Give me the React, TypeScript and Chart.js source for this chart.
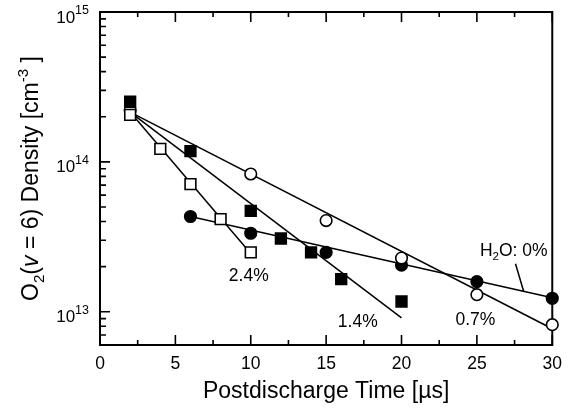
import { useEffect, useRef } from 'react';
import { Chart, registerables } from 'chart.js';

Chart.register(...registerables);

const FONT = '"Liberation Sans", Arial, Helvetica, sans-serif';

// Measured points: postdischarge time [µs] and O2(v=6) density [cm^-3]
const timeH2O0 = [6, 10, 15, 20, 25, 30];
const densityH2O0 = [4.32e13, 3.34e13, 2.49e13, 2.05e13, 1.59e13, 1.23e13];

const timeH2O07 = [2, 10, 15, 20, 25, 30];
const densityH2O07 = [2.22e14, 8.3e13, 4.06e13, 2.28e13, 1.3e13, 8.2e12];

const timeH2O14 = [2, 6, 10, 12, 14, 16, 20];
const densityH2O14 = [2.52e14, 1.18e14, 4.71e13, 3.08e13, 2.49e13, 1.65e13, 1.17e13];

const timeH2O24 = [2, 4, 6, 8, 10];
const densityH2O24 = [2.06e14, 1.22e14, 7.1e13, 4.15e13, 2.49e13];

// Fitted decay lines (end points)
const fitTime0 = [6, 30];
const fitDensity0 = [4.32e13, 1.24e13];
const fitTime07 = [2, 30];
const fitDensity07 = [2.15e14, 7.7e12];
const fitTime14 = [2, 20];
const fitDensity14 = [2.15e14, 9.1e12];
const fitTime24 = [2, 10];
const fitDensity24 = [2.15e14, 2.45e13];
// Leader line of the "H2O: 0%" label
const leaderTime = [27.56, 28.1];
const leaderDensity = [2.09e13, 1.37e13];

// Axes
const xMin = 0;
const xMax = 30;
const xMajorTicks = [0, 5, 10, 15, 20, 25, 30];
const xMinorTicks = [2.5, 7.5, 12.5, 17.5, 22.5, 27.5];
const yMin = 6e12;
const yMax = 1e15;
const yDecadeExponents = [13, 14, 15];
const yMinorMantissas = [2, 3, 4, 5, 6, 7, 8, 9];

// Series labels (text, anchor time, anchor density)
const labelTexts = ['2.4%', '1.4%', '0.7%'];
const labelTimes = [9.87, 17.1, 24.9];
const labelDensities = [1.765e13, 8.74e12, 9.02e12];
const h2oLabelTime = 25.2;
const h2oLabelDensity = 2.59e13;

const xTitle = 'Postdischarge Time [\u00b5s]';

const pts = (xs: number[], ys: number[]) => xs.map((x, i) => ({ x, y: ys[i] }));

type Seg = { t: string; kind?: 'sub' | 'sup' | 'italic' };

function drawSegments(ctx: CanvasRenderingContext2D, segs: Seg[], fs: number, startX: number, baseY: number, center: boolean) {
  const fontFor = (s: Seg) => {
    if (s.kind === 'sub' || s.kind === 'sup') return `${fs * 0.66}px ${FONT}`;
    if (s.kind === 'italic') return `italic ${fs}px ${FONT}`;
    return `${fs}px ${FONT}`;
  };
  let total = 0;
  for (const s of segs) {
    ctx.font = fontFor(s);
    total += ctx.measureText(s.t).width;
  }
  let x = center ? startX - total / 2 : startX;
  ctx.textAlign = 'left';
  ctx.textBaseline = 'alphabetic';
  for (const s of segs) {
    ctx.font = fontFor(s);
    let dy = 0;
    if (s.kind === 'sub') dy = fs * 0.24;
    if (s.kind === 'sup') dy = -fs * 0.42;
    ctx.fillText(s.t, x, baseY + dy);
    x += ctx.measureText(s.t).width;
  }
}

const framePlugin = {
  id: 'frameTicks',
  beforeDatasetsDraw(chart: any) {
    const { ctx, chartArea: a, scales } = chart;
    const xs = scales.x;
    const ys = scales.y;
    ctx.save();
    ctx.strokeStyle = '#000';
    ctx.lineWidth = 2;
    ctx.strokeRect(a.left, a.top, a.right - a.left, a.bottom - a.top);
    ctx.lineWidth = 1.6;
    ctx.beginPath();
    const xTick = (v: number, len: number) => {
      const px = xs.getPixelForValue(v);
      ctx.moveTo(px, a.bottom);
      ctx.lineTo(px, a.bottom - len);
      ctx.moveTo(px, a.top);
      ctx.lineTo(px, a.top + len);
    };
    xMajorTicks.forEach((v) => xTick(v, 10));
    xMinorTicks.forEach((v) => xTick(v, 5));
    const yTick = (v: number, len: number) => {
      if (v < yMin || v > yMax) return;
      const py = ys.getPixelForValue(v);
      ctx.moveTo(a.left, py);
      ctx.lineTo(a.left + len, py);
    };
    [12, ...yDecadeExponents].forEach((e) => {
      yTick(Math.pow(10, e), 10);
      yMinorMantissas.forEach((m) => yTick(m * Math.pow(10, e), 6));
    });
    ctx.stroke();
    ctx.restore();
  },
  afterDraw(chart: any) {
    const { ctx, chartArea: a, scales } = chart;
    const xs = scales.x;
    const ys = scales.y;
    ctx.save();
    ctx.fillStyle = '#000';

    // y tick labels 10^n
    yDecadeExponents.forEach((e) => {
      const py = ys.getPixelForValue(Math.pow(10, e));
      const right = a.left - 11;
      ctx.textAlign = 'right';
      ctx.textBaseline = 'alphabetic';
      ctx.font = `12.5px ${FONT}`;
      const sup = String(e);
      const supW = ctx.measureText(sup).width;
      ctx.fillText(sup, right, py + 2);
      ctx.font = `17px ${FONT}`;
      ctx.fillText('10', right - supW, py + 10.5);
    });

    // x title
    ctx.font = `23px ${FONT}`;
    ctx.textAlign = 'center';
    ctx.textBaseline = 'alphabetic';
    ctx.fillText(xTitle, (a.left + a.right) / 2, 398);

    // y title (rotated)
    ctx.save();
    ctx.translate(38, (a.top + a.bottom) / 2);
    ctx.rotate(-Math.PI / 2);
    drawSegments(
      ctx,
      [
        { t: 'O' },
        { t: '2', kind: 'sub' },
        { t: '(' },
        { t: 'v', kind: 'italic' },
        { t: ' = 6) Density [cm' },
        { t: '-3', kind: 'sup' },
        { t: ' ]' },
      ],
      23,
      0,
      0,
      true
    );
    ctx.restore();

    // series labels
    const lfs = 17.5;
    ctx.font = `${lfs}px ${FONT}`;
    ctx.textAlign = 'center';
    ctx.textBaseline = 'alphabetic';
    labelTexts.forEach((t, i) => {
      const px = xs.getPixelForValue(labelTimes[i]);
      const py = ys.getPixelForValue(labelDensities[i]);
      ctx.fillText(t, px, py + lfs * 0.358);
    });
    const hx = xs.getPixelForValue(h2oLabelTime);
    const hy = ys.getPixelForValue(h2oLabelDensity);
    drawSegments(ctx, [{ t: 'H' }, { t: '2', kind: 'sub' }, { t: 'O: 0%' }], lfs, hx, hy + lfs * 0.358, false);
    ctx.restore();
  },
};

export default function App() {
  const ref = useRef<HTMLCanvasElement | null>(null);
  useEffect(() => {
    if (!ref.current) return;
    const marker = (pointStyle: string, radius: number, filled: boolean) => ({
      showLine: false,
      pointStyle,
      pointRadius: radius,
      pointHoverRadius: radius,
      pointBorderWidth: 1.6,
      pointBorderColor: '#000',
      pointBackgroundColor: filled ? '#000' : '#fff',
      clip: false as any,
    });
    const line = (xs: number[], ys: number[], label: string) => ({
      label,
      data: pts(xs, ys),
      showLine: true,
      borderColor: '#000',
      borderWidth: 1.5,
      pointRadius: 0,
      fill: false,
      order: 10,
      clip: false as any,
    });
    const chart = new Chart(ref.current, {
      type: 'scatter',
      data: {
        datasets: [
          { label: 'H2O 2.4%', data: pts(timeH2O24, densityH2O24), ...marker('rect', 7.6, false), order: 1 },
          { label: 'H2O 1.4%', data: pts(timeH2O14, densityH2O14), ...marker('rect', 7.6, true), order: 2 },
          { label: 'H2O 0.7%', data: pts(timeH2O07, densityH2O07), ...marker('circle', 5.8, false), order: 3 },
          { label: 'H2O 0%', data: pts(timeH2O0, densityH2O0), ...marker('circle', 5.8, true), order: 4 },
          line(fitTime24, fitDensity24, 'fit 2.4%'),
          line(fitTime14, fitDensity14, 'fit 1.4%'),
          line(fitTime07, fitDensity07, 'fit 0.7%'),
          line(fitTime0, fitDensity0, 'fit 0%'),
          line(leaderTime, leaderDensity, 'leader'),
        ] as any,
      },
      options: {
        animation: false,
        responsive: false,
        maintainAspectRatio: false,
        layout: { padding: { left: 100, right: 12, top: 12, bottom: 0 } },
        plugins: { legend: { display: false }, tooltip: { enabled: false } },
        scales: {
          x: {
            type: 'linear',
            min: xMin,
            max: xMax,
            grid: { display: false, drawTicks: false },
            border: { display: false },
            ticks: {
              stepSize: 5,
              color: '#000',
              font: { family: FONT, size: 17.5 },
              padding: 9,
              maxRotation: 0,
              callback: (v: any) => (xMajorTicks.includes(Number(v)) ? String(v) : ''),
            },
            afterFit: (s: any) => {
              s.height = 67;
            },
          },
          y: {
            type: 'logarithmic',
            min: yMin,
            max: yMax,
            grid: { display: false, drawTicks: false },
            border: { display: false },
            ticks: { display: false },
            afterFit: (s: any) => {
              s.width = 0;
            },
          },
        },
      } as any,
      plugins: [framePlugin],
    });
    return () => chart.destroy();
  }, []);
  return (
    <div style={{ position: 'absolute', left: 0, top: 0, width: 571, height: 412, background: '#fff' }}>
      <canvas ref={ref} width={571} height={412} />
    </div>
  );
}
